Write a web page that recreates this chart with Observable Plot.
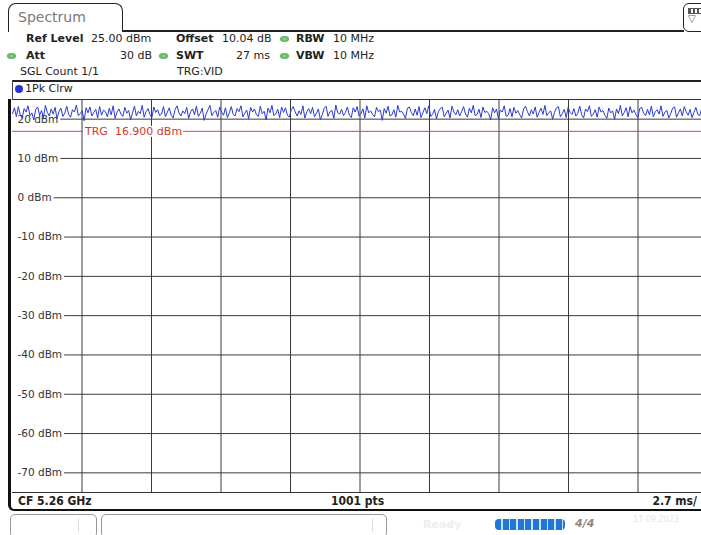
<!DOCTYPE html>
<html><head><meta charset="utf-8">
<script src="https://cdn.jsdelivr.net/npm/d3@7"></script>
<script src="https://cdn.jsdelivr.net/npm/@observablehq/plot@0.6"></script>
<style>
html,body{margin:0;padding:0;width:701px;height:535px;overflow:hidden;background:#fff;}
body{position:relative;font-family:"DejaVu Sans",sans-serif;font-size:11px;color:#222;}
.a{position:absolute;white-space:nowrap;line-height:14px;}
.b{font-weight:bold;}
.dot{position:absolute;width:9px;height:6px;border-radius:50%;background:radial-gradient(#8fd88f,#3f9a3f);}
.ln{position:absolute;background:#222;}
</style></head><body>
<div id="root"></div>
<script>
// ---- data ----
const refLevel = 25;          // dBm, top of the display
const rangeDb = 100;          // dB span of the display
const sweepMs = 27;           // SWT, ms (2.7 ms/div)
const yTicks = [20, 10, 0, -10, -20, -30, -40, -50, -60, -70];
const yTickLabels = ["20 dBm","10 dBm","0 dBm","-10 dBm","-20 dBm","-30 dBm","-40 dBm","-50 dBm","-60 dBm","-70 dBm"];
const xDivs = [2.7, 5.4, 8.1, 10.8, 13.5, 16.2, 18.9, 21.6, 24.3, 27];
const trgLevel = 16.9;
const trgLabel = "TRG  16.900 dBm";
const traceDbm = [
21.4,22.9,20.6,23.2,21.1,20.3,22.7,21.8,23.4,20.9,
21.6,19.8,22.5,23.1,21.0,22.2,20.4,23.5,21.7,20.8,
22.6,21.3,23.0,20.1,21.9,22.8,20.7,21.5,23.3,21.2,
20.5,22.4,21.8,23.6,20.9,21.4,22.1,19.6,22.9,21.6,
23.1,20.8,21.7,22.5,20.3,23.2,21.0,22.3,21.9,20.6,
22.8,21.1,23.4,20.2,21.8,22.6,21.3,20.7,23.0,21.5,
22.2,19.9,21.6,23.3,20.8,22.0,21.4,23.5,20.5,21.9,
22.7,21.2,20.4,23.1,21.7,22.4,20.9,21.3,23.2,20.6,
21.8,22.9,21.0,20.3,22.5,23.4,21.6,20.8,22.1,21.4,
23.0,20.2,21.9,22.6,21.1,23.3,20.7,21.5,22.8,19.7,
21.3,22.4,23.5,20.9,21.7,22.2,20.5,23.1,21.8,21.0,
22.9,20.4,21.6,23.2,21.2,20.8,22.7,21.9,23.4,20.6,
21.5,22.3,20.1,23.0,21.8,22.6,21.1,20.7,23.3,21.4,
22.0,19.8,22.8,21.6,23.5,20.9,21.3,22.5,20.4,23.1,
21.7,22.9,21.0,20.5,22.4,23.2,21.9,20.8,22.1,21.2,
23.4,20.3,21.8,22.7,21.4,23.0,20.6,21.5,22.6,19.9,
21.1,22.8,23.3,20.7,21.9,22.2,20.2,23.6,21.6,21.3,
22.5,20.9,21.7,23.1,21.0,20.4,22.9,21.8,23.2,20.8,
21.4,22.6,20.3,23.4,21.6,22.1,21.2,20.6,23.0,21.9,
22.3,19.7,22.7,21.5,23.3,20.8,21.1,22.4,20.5,23.5,
21.8,22.0,21.3,20.2,22.8,23.1,21.7,20.9,22.6,21.0,
23.2,20.4,21.6,22.9,21.4,23.4,20.7,21.2,22.5,20.1,
21.9,22.7,23.0,20.6,21.5,22.3,20.3,23.3,21.8,21.1,
22.4,20.8,21.9,23.2,21.3,20.5,22.8,21.6,23.5,20.9,
21.2,22.5,20.4,23.1,21.7,22.0,21.4,19.8,22.9,21.6,
22.6,20.2,22.3,21.8,23.4,20.7,21.0,22.7,20.6,23.0,
21.5,22.2,21.1,20.3,22.6,23.3,21.9,20.8,22.4,21.3,
23.1,20.5,21.7,22.8,21.2,23.5,20.9,21.6,22.1,20.0,
21.8,22.9,23.2,20.6,21.4,22.5,20.4,23.0,21.7,21.2,
22.7,20.8,21.5,23.3,21.1,20.3,22.6,21.9,23.4,20.7,
21.3,22.4,20.5,23.1,21.8,22.2,21.0,20.2,22.8,21.6,
22.1,19.9,22.6,21.4,23.5,20.8,21.7,22.9,20.6,23.2,
21.6,22.3,21.2,20.4,22.7,23.0,21.5,20.9,22.5,21.1,
23.3,20.6,21.9,22.4,21.3,23.4,20.7,21.8,22.2,20.3,
21.4,22.8,23.1,20.5,21.6,22.6,20.8,23.2,21.9,21.0,
22.5,20.4,21.7,23.0,21.2,20.9,22.7,21.5,23.3,21.8
];

const trace = traceDbm.map((v, i) => ({t: i * sweepMs / (traceDbm.length - 1), v}));
const ticks = yTicks.map((v, i) => ({v, label: yTickLabels[i]}));

const root = document.getElementById("root");
function el(html){ root.insertAdjacentHTML("beforeend", html); }

// tab + header
el(`<div style="position:absolute;left:8px;top:3px;width:113px;height:28px;border:1.5px solid #222;border-bottom:none;border-radius:8px 8px 0 0;background:#fff;"></div>`);
el(`<div class="a" style="left:18px;top:9px;font-size:14px;color:#7a7a7a;line-height:16px;">Spectrum</div>`);
el(`<div class="ln" style="left:122px;top:30px;width:562px;height:1.5px;"></div>`);
el(`<div style="position:absolute;left:683px;top:3px;width:30px;height:27px;border:1.5px solid #222;border-radius:6px 6px 0 6px;background:#fff;"></div>`);
el(`<div style="position:absolute;left:688px;top:8px;width:14px;height:4px;border:1px solid #555;background:repeating-linear-gradient(90deg,#555 0 2px,#fff 2px 4px);"></div>`);
el(`<div class="a" style="left:688px;top:13px;font-size:10px;color:#555;line-height:12px;">▽</div>`);

const rows = [
 [32, [["Ref Level",26,1],["25.00 dBm",91,0],["Offset",176,1],["10.04 dB",222,0],["RBW",296,1],["10 MHz",333,0]]],
 [49, [["Att",26,1],["SWT",176,1],["VBW",296,1],["10 MHz",333,0]]],
 [65, [["SGL Count 1/1",20,0],["TRG:VID",177,0]]]
];
rows.forEach(([top, items]) => items.forEach(([t,x,b]) =>
  el(`<div class="a${b?' b':''}" style="left:${x}px;top:${top}px;">${t}</div>`)));
el(`<div class="a" style="right:${701-152}px;top:49px;">30 dB</div>`);
el(`<div class="a" style="right:${701-270}px;top:49px;">27 ms</div>`);
[[280,36],[7,53],[159,53],[280,53]].forEach(([x,y]) => el(`<div class="dot" style="left:${x}px;top:${y}px;"></div>`));

// frame
el(`<div class="ln" style="left:12px;top:80px;width:700px;height:2px;"></div>`);
el(`<div class="ln" style="left:12px;top:80px;width:1px;height:20px;background:#444;"></div>`);
el(`<div style="position:absolute;left:15px;top:85px;width:8px;height:8px;border-radius:50%;background:#2235d0;"></div>`);
el(`<div class="a" style="left:25px;top:82px;">1Pk Clrw</div>`);

// plot
const chart = Plot.plot({
  width: 695,
  height: 393,
  margin: 0,
  x: {domain: [0, sweepMs], axis: null},
  y: {domain: [refLevel - rangeDb, refLevel], axis: null},
  style: {background: "transparent", overflow: "visible", fontFamily: "DejaVu Sans, sans-serif"},
  marks: [
    Plot.ruleY(yTicks, {stroke: "#3a3a3a", strokeWidth: 1}),
    Plot.ruleX(xDivs, {stroke: "#3a3a3a", strokeWidth: 1}),
    Plot.ruleY([trgLevel], {stroke: "#e0443a", strokeWidth: 1}),
    Plot.text(ticks, {x: 0, y: "v", text: "label", textAnchor: "start", dx: 5, fontSize: 10.5, fill: "#333"}),
    Plot.text([trgLevel], {x: xDivs[0], y: d => d, text: () => trgLabel, textAnchor: "start", dx: 3, fontSize: 11, fill: "#d23a30"}),
    Plot.line(trace, {x: "t", y: "v", stroke: "#2a3bd0", strokeWidth: 1})
  ]
});
chart.style.position = "absolute";
chart.style.left = "12px";
chart.style.top = "99px";
root.appendChild(chart);

// white masks behind the in-plot labels (inserted under each label)
d3.select(chart).selectAll("g[aria-label='text']").each(function(d, gi) {
  const g = this;
  Array.from(g.querySelectorAll("text")).forEach(t => {
    const bb = t.getBBox();
    const r = document.createElementNS("http://www.w3.org/2000/svg", "rect");
    const x0 = gi === 0 ? bb.x - 14 : bb.x - 1;
    const x1 = bb.x + bb.width + (gi === 0 ? 2 : 1);
    r.setAttribute("x", x0);
    r.setAttribute("y", bb.y + 1);
    r.setAttribute("width", x1 - x0);
    r.setAttribute("height", bb.height - 2);
    r.setAttribute("fill", "white");
    r.setAttribute("transform", t.getAttribute("transform") || "");
    g.insertBefore(r, t);
  });
});

// frame lines drawn on top of the plot edges
el(`<div class="ln" style="left:12px;top:99px;width:700px;height:1px;background:#333;"></div>`);
el(`<div class="ln" style="left:12px;top:492px;width:700px;height:1px;background:#333;"></div>`);
el(`<div style="position:absolute;left:8px;top:99px;width:720px;height:410px;border-left:3px solid #111;border-bottom:2.5px solid #111;border-radius:0 0 0 6px;"></div>`);
el(`<div class="a b" style="left:18px;top:494px;font-family:'DejaVu Sans Condensed','DejaVu Sans',sans-serif;font-size:12px;">CF 5.26 GHz</div>`);
el(`<div class="a b" style="left:331px;top:494px;font-family:'DejaVu Sans Condensed','DejaVu Sans',sans-serif;font-size:12px;">1001 pts</div>`);
el(`<div class="a b" style="right:4px;top:494px;font-family:'DejaVu Sans Condensed','DejaVu Sans',sans-serif;font-size:12px;">2.7 ms/</div>`);

// status bar
el(`<div style="position:absolute;left:10px;top:514px;width:85px;height:22px;border:1px solid #999;border-radius:5px;background:#fff;"></div>`);
el(`<div style="position:absolute;left:78px;top:518px;width:1px;height:14px;background:#ddd;"></div>`);
el(`<div style="position:absolute;left:101px;top:514px;width:284px;height:22px;border:1px solid #999;border-radius:5px;background:#fff;"></div>`);
el(`<div style="position:absolute;left:372px;top:518px;width:1px;height:14px;background:#ddd;"></div>`);
el(`<div class="a b" style="left:423px;top:518px;color:#eee;">Ready</div>`);
el(`<div style="position:absolute;left:495px;top:519px;width:70px;height:11px;border-radius:4px;background:repeating-linear-gradient(90deg,#1f78d6 0 6px,#cfe3f7 6px 7.6px);"></div>`);
el(`<div class="a b" style="left:575px;top:517px;color:#888;font-style:italic;">4/4</div>`);
el(`<div class="a" style="left:633px;top:513px;color:#e6e6e6;font-size:8px;">17.09.2023</div>`);
</script>
</body></html>
